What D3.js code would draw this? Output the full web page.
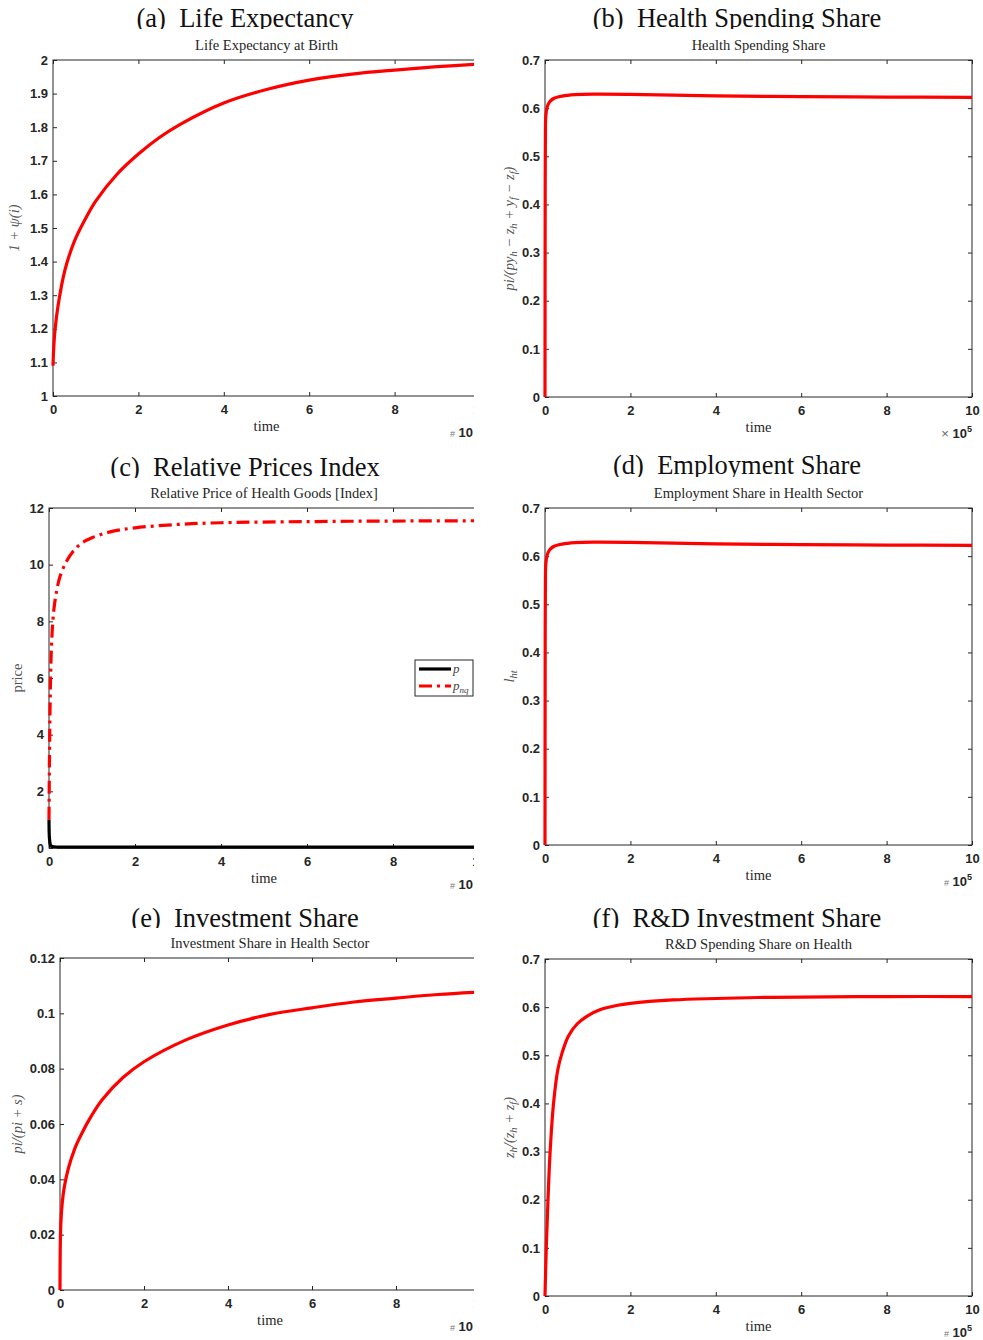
<!DOCTYPE html>
<html>
<head>
<meta charset="utf-8">
<script src="https://cdn.jsdelivr.net/npm/d3@7"></script>
<style>
  body { margin: 0; background: #fff; }
  svg { display: block; }
  .tick text { font-family: "Liberation Sans", Arial, sans-serif; font-weight: bold; font-size: 13px; fill: #262626; }
  .tick line { stroke: #262626; }
</style>
</head>
<body>
<div id="chart"></div>
<script>
// values (time in units of 10^5)
var xTicks = [0, 2, 4, 6, 8, 10];

var timeA = [0, 0.02, 0.05, 0.12, 0.28, 0.5, 0.75, 1, 1.5, 2, 2.5, 3, 4, 5, 6, 7, 8, 9, 10];
var lifeExp = [1.09, 1.15, 1.2, 1.27, 1.375, 1.46, 1.525, 1.58, 1.66, 1.72, 1.77, 1.81, 1.872, 1.912, 1.94, 1.958, 1.97, 1.98, 1.988];
var yTicksA = [1, 1.1, 1.2, 1.3, 1.4, 1.5, 1.6, 1.7, 1.8, 1.9, 2];

var timeB = [0, 0.005, 0.01, 0.02, 0.05, 0.1, 0.2, 0.4, 0.7, 1.2, 2, 3, 4, 6, 8, 10];
var healthShare = [0, 0.45, 0.55, 0.585, 0.602, 0.612, 0.62, 0.625, 0.628, 0.629, 0.6285, 0.627, 0.6255, 0.624, 0.623, 0.6225];
var yTicksB = [0, 0.1, 0.2, 0.3, 0.4, 0.5, 0.6, 0.7];

var timeC = [0, 0.01, 0.03, 0.05, 0.08, 0.12, 0.18, 0.26, 0.4, 0.55, 0.75, 1, 1.4, 2, 3, 4, 6, 8, 10];
var priceP = [1, 0.35, 0.12, 0.07, 0.05, 0.04, 0.035, 0.03, 0.03, 0.03, 0.03, 0.03, 0.03, 0.03, 0.03, 0.03, 0.03, 0.03, 0.03];
var priceNq = [1, 3, 5.5, 6.8, 7.8, 8.5, 9.1, 9.6, 10.1, 10.45, 10.75, 10.95, 11.15, 11.3, 11.42, 11.48, 11.52, 11.54, 11.55];
var yTicksC = [0, 2, 4, 6, 8, 10, 12];

var timeD = [0, 0.005, 0.01, 0.02, 0.05, 0.1, 0.2, 0.4, 0.7, 1.2, 2, 3, 4, 6, 8, 10];
var employShare = [0, 0.45, 0.55, 0.585, 0.602, 0.612, 0.62, 0.625, 0.628, 0.629, 0.6285, 0.627, 0.6255, 0.624, 0.623, 0.6225];
var yTicksD = [0, 0.1, 0.2, 0.3, 0.4, 0.5, 0.6, 0.7];

var timeE = [0, 0.005, 0.02, 0.05, 0.1, 0.2, 0.35, 0.5, 0.75, 1, 1.5, 2, 3, 4, 5, 6, 7, 8, 9, 10];
var investShare = [0, 0.014, 0.024, 0.031, 0.037, 0.044, 0.051, 0.056, 0.063, 0.0687, 0.0768, 0.0825, 0.0904, 0.0958, 0.0996, 0.102, 0.1041, 0.1055, 0.1068, 0.1077];
var yTicksE = [0, 0.02, 0.04, 0.06, 0.08, 0.1, 0.12];

var timeF = [0, 0.03, 0.07, 0.12, 0.2, 0.3, 0.4, 0.55, 0.75, 1, 1.3, 1.7, 2, 3, 4, 5, 6, 8, 10];
var rdShare = [0, 0.1, 0.2, 0.3, 0.4, 0.47, 0.505, 0.54, 0.565, 0.582, 0.595, 0.604, 0.608, 0.615, 0.618, 0.62, 0.621, 0.622, 0.622];
var yTicksF = [0, 0.1, 0.2, 0.3, 0.4, 0.5, 0.6, 0.7];

const width = 983
const height = 1340

var svg = d3.select('#chart').append('svg')
  .attr('width', width)
  .attr('height', height)

var defs = svg.append('defs')
// left column of the original picture is cut at x=474
defs.append('clipPath').attr('id', 'colClip')
  .append('rect').attr('x', 0).attr('y', 0).attr('width', 474).attr('height', height)

var serif = '"Liberation Serif", "Times New Roman", serif'
var sans = '"Liberation Sans", Arial, sans-serif'

var panels = [
  { id: 'a', title: '(a)  Life Expectancy', sub: 'Life Expectancy at Birth', cx: 245, titleY: 27, titleClip: 29,
    x0: 53, x1: 480, y0: 60, y1: 396, yDomain: [1, 2], yTicks: yTicksA, left: true,
    series: [{ t: timeA, v: lifeExp, color: 'red' }],
    ylab: [['1 + ', ''], ['ψ', ''], ['(i)', '']], ylabX: 19, mult: 'hash10' },
  { id: 'b', title: '(b)  Health Spending Share', sub: 'Health Spending Share', cx: 737, titleY: 27, titleClip: 29,
    x0: 545, x1: 972, y0: 60, y1: 397, yDomain: [0, 0.7], yTicks: yTicksB, left: false,
    series: [{ t: timeB, v: healthShare, color: 'red' }],
    ylab: [['pi/(py', ''], ['h', 'sub'], [' − z', ''], ['h', 'sub'], [' + y', ''], ['f', 'sub'], [' − z', ''], ['f', 'sub'], [')', '']],
    ylabX: 514, mult: 'times' },
  { id: 'c', title: '(c)  Relative Prices Index', sub: 'Relative Price of Health Goods [Index]', cx: 245, titleY: 476, titleClip: 478,
    x0: 49, x1: 479, y0: 508, y1: 848, yDomain: [0, 12], yTicks: yTicksC, left: true,
    series: [{ t: timeC, v: priceP, color: 'black' }, { t: timeC, v: priceNq, color: 'red', dash: '13,5,3,5' }],
    ylab: 'price', ylabX: 22, mult: 'hash10', legend: true },
  { id: 'd', title: '(d)  Employment Share', sub: 'Employment Share in Health Sector', cx: 737, titleY: 474, titleClip: 477,
    x0: 545, x1: 972, y0: 508, y1: 845, yDomain: [0, 0.7], yTicks: yTicksD, left: false,
    series: [{ t: timeD, v: employShare, color: 'red' }],
    ylab: [['l', ''], ['ht', 'sub']], ylabX: 514, mult: 'hash105' },
  { id: 'e', title: '(e)  Investment Share', sub: 'Investment Share in Health Sector', cx: 245, titleY: 927, titleClip: 928,
    x0: 60, x1: 480, y0: 958, y1: 1290, yDomain: [0, 0.12], yTicks: yTicksE, left: true,
    series: [{ t: timeE, v: investShare, color: 'red' }],
    ylab: [['pi/(pi + s)', '']], ylabX: 22, mult: 'hash10' },
  { id: 'f', title: '(f)  R&D Investment Share', sub: 'R&D Spending Share on Health', cx: 737, titleY: 927, titleClip: 928,
    x0: 545, x1: 972, y0: 959, y1: 1296, yDomain: [0, 0.7], yTicks: yTicksF, left: false,
    series: [{ t: timeF, v: rdShare, color: 'red' }],
    ylab: [['z', ''], ['h', 'sub'], ['/(z', ''], ['h', 'sub'], [' + z', ''], ['f', 'sub'], [')', '']], ylabX: 514, mult: 'hash105' }
]

panels.forEach(drawPanel)

function drawPanel (p) {
  var x = d3.scaleLinear().domain([0, 10]).range([p.x0, p.x1])
  var y = d3.scaleLinear().domain(p.yDomain).range([p.y1, p.y0])

  // title, its lower part is cut like in the original
  defs.append('clipPath').attr('id', 'tclip' + p.id)
    .append('rect').attr('x', p.cx - 250).attr('y', p.titleY - 40).attr('width', 500).attr('height', p.titleClip - p.titleY + 40)
  svg.append('text')
    .attr('x', p.cx).attr('y', p.titleY)
    .attr('clip-path', 'url(#tclip' + p.id + ')')
    .attr('text-anchor', 'middle')
    .style('font-family', serif).style('font-size', '26.5px').style('fill', '#111')
    .style('white-space', 'pre')
    .text(p.title)

  var g = svg.append('g')
  if (p.left) g.attr('clip-path', 'url(#colClip)')

  var mid = (p.x0 + p.x1) / 2
  g.append('text')
    .attr('x', mid).attr('y', p.y0 - 10)
    .attr('text-anchor', 'middle')
    .style('font-family', serif).style('font-size', '14.5px').style('fill', '#262626')
    .text(p.sub)

  // box
  g.append('rect')
    .attr('x', p.x0).attr('y', p.y0)
    .attr('width', p.x1 - p.x0).attr('height', p.y1 - p.y0)
    .attr('fill', 'none').attr('stroke', '#262626').attr('stroke-width', 1)

  g.append('g').attr('transform', 'translate(0,' + p.y1 + ')')
    .call(d3.axisBottom(x).tickValues(xTicks).tickSizeInner(-4).tickSizeOuter(0).tickPadding(9))
  g.append('g').attr('transform', 'translate(0,' + p.y0 + ')')
    .call(d3.axisTop(x).tickValues(xTicks).tickSizeInner(-4).tickSizeOuter(0).tickFormat(''))
  g.append('g').attr('transform', 'translate(' + p.x0 + ',0)')
    .call(d3.axisLeft(y).tickValues(p.yTicks).tickSizeInner(-4).tickSizeOuter(0).tickPadding(5).tickFormat(d3.format('')))
  g.append('g').attr('transform', 'translate(' + p.x1 + ',0)')
    .call(d3.axisRight(y).tickValues(p.yTicks).tickSizeInner(-4).tickSizeOuter(0).tickFormat(''))
  g.selectAll('.domain').remove()

  // curves
  var line = d3.line()
    .x(function (d) { return x(d[0]) })
    .y(function (d) { return y(d[1]) })
    .curve(d3.curveCatmullRom.alpha(0.5))

  p.series.forEach(function (s) {
    var pts = s.t.map(function (t, i) { return [t, s.v[i]] })
    g.append('path')
      .attr('d', line(pts))
      .attr('fill', 'none')
      .attr('stroke', s.color)
      .attr('stroke-width', 3.2)
      .attr('stroke-dasharray', s.dash || null)
  })

  // x label
  g.append('text')
    .attr('x', mid).attr('y', p.y1 + 35)
    .attr('text-anchor', 'middle')
    .style('font-family', serif).style('font-size', '14.5px').style('fill', '#262626')
    .text('time')

  // exponent label at lower right
  var m = g.append('text')
    .attr('x', p.left ? 473 : p.x1).attr('y', p.y1 + 41)
    .attr('text-anchor', 'end')
    .style('font-family', sans).style('fill', '#262626')
  if (p.mult === 'times') {
    m.append('tspan').text('×').style('font-size', '13px').style('fill', '#666')
  } else {
    m.append('tspan').text('#').style('font-size', '9px').style('fill', '#777')
  }
  m.append('tspan').text(' 10').style('font-size', '13px').style('font-weight', 'bold')
  if (p.mult !== 'hash10') {
    m.append('tspan').text('5').attr('dy', -6).style('font-size', '9px').style('font-weight', 'bold')
  }

  // y label
  var yl = g.append('text')
    .attr('transform', 'translate(' + p.ylabX + ',' + (p.y0 + p.y1) / 2 + ') rotate(-90)')
    .attr('text-anchor', 'middle')
    .style('font-family', serif).style('font-size', '14.5px').style('fill', '#555')
  if (typeof p.ylab === 'string') {
    yl.text(p.ylab)
  } else {
    yl.style('font-style', 'italic')
    var lastSub = false
    p.ylab.forEach(function (part) {
      var sub = part[1] === 'sub'
      var ts = yl.append('tspan').text(part[0])
      if (sub) ts.attr('dy', 3).style('font-size', '10.5px')
      else if (lastSub) ts.attr('dy', -3)
      lastSub = sub
    })
  }

  if (p.legend) {
    var lg = g.append('g')
    lg.append('rect').attr('x', 415).attr('y', 660).attr('width', 58).attr('height', 36)
      .attr('fill', '#fff').attr('stroke', '#262626').attr('stroke-width', 1)
    lg.append('line').attr('x1', 419).attr('x2', 451).attr('y1', 669).attr('y2', 669)
      .attr('stroke', 'black').attr('stroke-width', 3.2)
    lg.append('line').attr('x1', 419).attr('x2', 451).attr('y1', 686).attr('y2', 686)
      .attr('stroke', 'red').attr('stroke-width', 3.2).attr('stroke-dasharray', '13,5,3,5')
    lg.append('text').attr('x', 453).attr('y', 673).text('p')
      .style('font-family', serif).style('font-style', 'italic').style('font-size', '13px').style('fill', '#444')
    var t2 = lg.append('text').attr('x', 453).attr('y', 690)
      .style('font-family', serif).style('font-style', 'italic').style('font-size', '13px').style('fill', '#444')
    t2.append('tspan').text('p')
    t2.append('tspan').text('nq').attr('dy', 3).style('font-size', '9px')
  }
}
</script>
</body>
</html>
